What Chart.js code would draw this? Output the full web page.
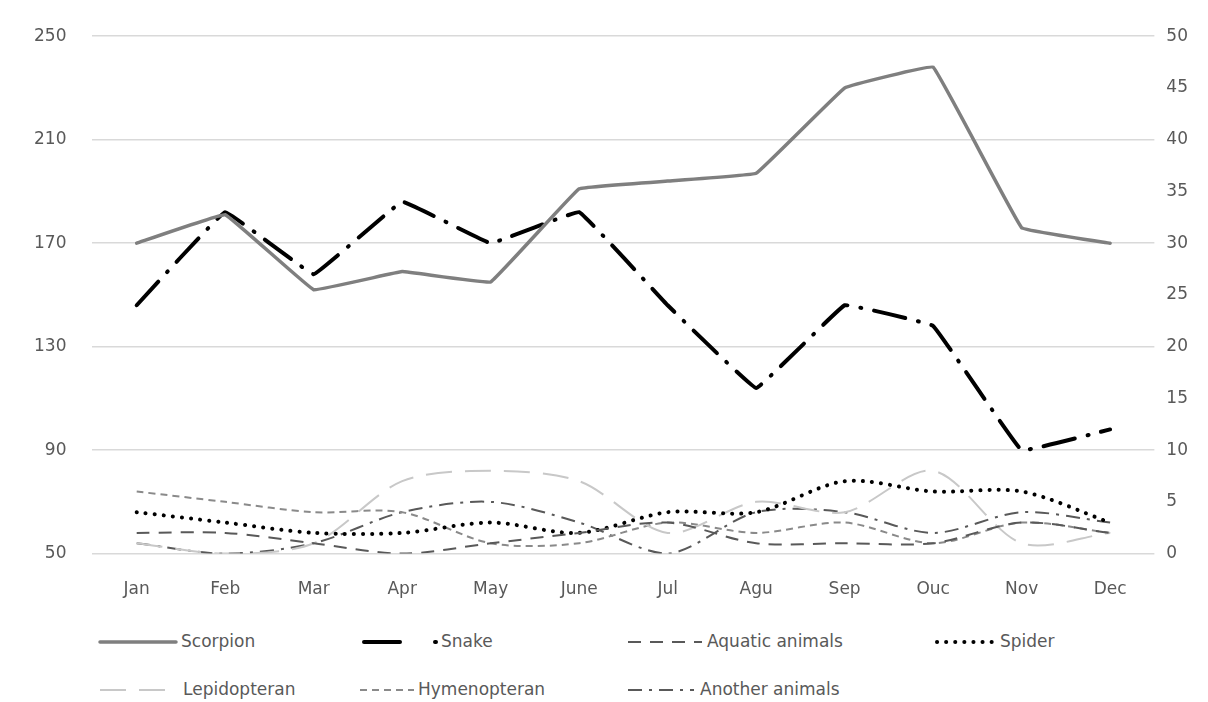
<!DOCTYPE html>
<html>
<head>
<meta charset="utf-8">
<script src="https://cdn.jsdelivr.net/npm/chart.js@4.4.1/dist/chart.umd.min.js"></script>
<style>
    body { margin: 0; background: #fff; }
    #wrap { position: relative; width: 1208px; height: 702px; }
    #chartBox { position: absolute; left: 0; top: 0; width: 1208px; height: 628px; }
    .leg { position: absolute; height: 20px; font-family: "DejaVu Sans", sans-serif;
           font-size: 17px; color: #595959; }
    .leg svg { position: absolute; left: 0; top: 4px; }
    .leg span { position: absolute; top: -1px; white-space: nowrap; }
</style>
</head>
<body>
<div id="wrap">
    <div id="chartBox"><canvas id="animalChart"></canvas></div>
    <div id="legend"></div>
</div>
<script>
// 月份 (原圖拼寫保留)
const months = ['Jan', 'Feb', 'Mar', 'Apr', 'May', 'June', 'Jul', 'Agu', 'Sep', 'Ouc', 'Nov', 'Dec'];

// 左軸
const scorpion = [170, 181, 152, 159, 155, 191, 194, 197, 230, 238, 176, 170];
// 右軸
const snake = [24, 33, 27, 34, 30, 33, 24, 16, 24, 22, 10, 12];
const aquatic = [2, 2, 1, 0, 1, 2, 3, 1, 1, 1, 3, 2];
const spider = [4, 3, 2, 2, 3, 2, 4, 4, 7, 6, 6, 3];
const lepidopteran = [1, 0, 1, 7, 8, 7, 2, 5, 4, 8, 1, 2];
const hymenopteran = [6, 5, 4, 4, 1, 1, 3, 2, 3, 1, 3, 2];
const anotherAnimals = [1, 0, 1, 4, 5, 3, 0, 4, 4, 2, 4, 3];

const leftTicks = [50, 90, 130, 170, 210, 250];

const tickFont = { family: '"DejaVu Sans", sans-serif', size: 17 };
const tickColor = '#595959';

function series(label, data, axis, color, width, dash, cap, tension) {
    return {
        label: label,
        data: data,
        yAxisID: axis,
        borderColor: color,
        backgroundColor: color,
        borderWidth: width,
        borderDash: dash,
        borderCapStyle: cap,
        tension: tension,
        pointRadius: 0,
        fill: false
    };
}

const datasets = [
    series('Scorpion', scorpion, 'y', '#7f7f7f', 3.5, [], 'round', 0.05),
    series('Snake', snake, 'y1', '#000000', 4, [32, 13, 1, 13], 'round', 0.05),
    series('Aquatic animals', aquatic, 'y1', '#595959', 2, [13, 9], 'butt', 0.3),
    series('Spider', spider, 'y1', '#000000', 4, [0.1, 9], 'round', 0.3),
    series('Lepidopteran', lepidopteran, 'y1', '#c8c8c8', 2, [26, 13], 'butt', 0.3),
    series('Hymenopteran', hymenopteran, 'y1', '#8a8a8a', 2, [7, 5], 'butt', 0.3),
    series('Another animals', anotherAnimals, 'y1', '#595959', 2, [14, 7, 3, 7], 'butt', 0.3)
];

new Chart(document.getElementById('animalChart').getContext('2d'), {
    type: 'line',
    data: { labels: months, datasets: datasets },
    options: {
        responsive: true,
        maintainAspectRatio: false,
        animation: false,
        layout: { padding: { left: 8, right: 8, top: 14, bottom: 10 } },
        plugins: { legend: { display: false }, tooltip: { enabled: false } },
        scales: {
            x: {
                offset: true,
                grid: { display: false },
                border: { display: false },
                ticks: { font: tickFont, color: tickColor, padding: 18 }
            },
            y: {
                position: 'left',
                min: 50,
                max: 250,
                afterBuildTicks: (axis) => { axis.ticks = leftTicks.map(v => ({ value: v })); },
                grid: { color: '#d9d9d9', lineWidth: 1.5, drawTicks: false },
                border: { display: false },
                ticks: { font: tickFont, color: tickColor, padding: 26 }
            },
            y1: {
                position: 'right',
                min: 0,
                max: 50,
                grid: { display: false, drawTicks: false },
                border: { display: false },
                ticks: { stepSize: 5, font: tickFont, color: tickColor, padding: 12 }
            }
        }
    }
});

// 圖例 (兩列, 依原圖欄位對齊): 線樣 x, 線樣寬, 文字 x
const legendSpots = [
    { x: 98, y: 632, w: 80, tx: 181 }, { x: 362, y: 632, w: 78, tx: 441, dash: '36 35 1 40' },
    { x: 626, y: 632, w: 78, tx: 707 }, { x: 935, y: 632, w: 62, tx: 1000 },
    { x: 98, y: 680, w: 82, tx: 183 }, { x: 358, y: 680, w: 58, tx: 418 },
    { x: 626, y: 680, w: 70, tx: 700 }
];
const legendBox = document.getElementById('legend');
datasets.forEach((ds, i) => {
    const spot = legendSpots[i];
    const item = document.createElement('div');
    item.className = 'leg';
    item.style.left = spot.x + 'px';
    item.style.top = spot.y + 'px';
    const dash = spot.dash || (ds.borderDash.length ? ds.borderDash.join(' ') : 'none');
    item.innerHTML = `<svg width="${spot.w}" height="12"><line x1="2" y1="6" x2="${spot.w - 2}" y2="6"
        stroke="${ds.borderColor}" stroke-width="${ds.borderWidth}" stroke-dasharray="${dash}"
        stroke-linecap="${ds.borderCapStyle}"/></svg><span style="left:${spot.tx - spot.x}px">${ds.label}</span>`;
    legendBox.appendChild(item);
});
</script>
</body>
</html>
